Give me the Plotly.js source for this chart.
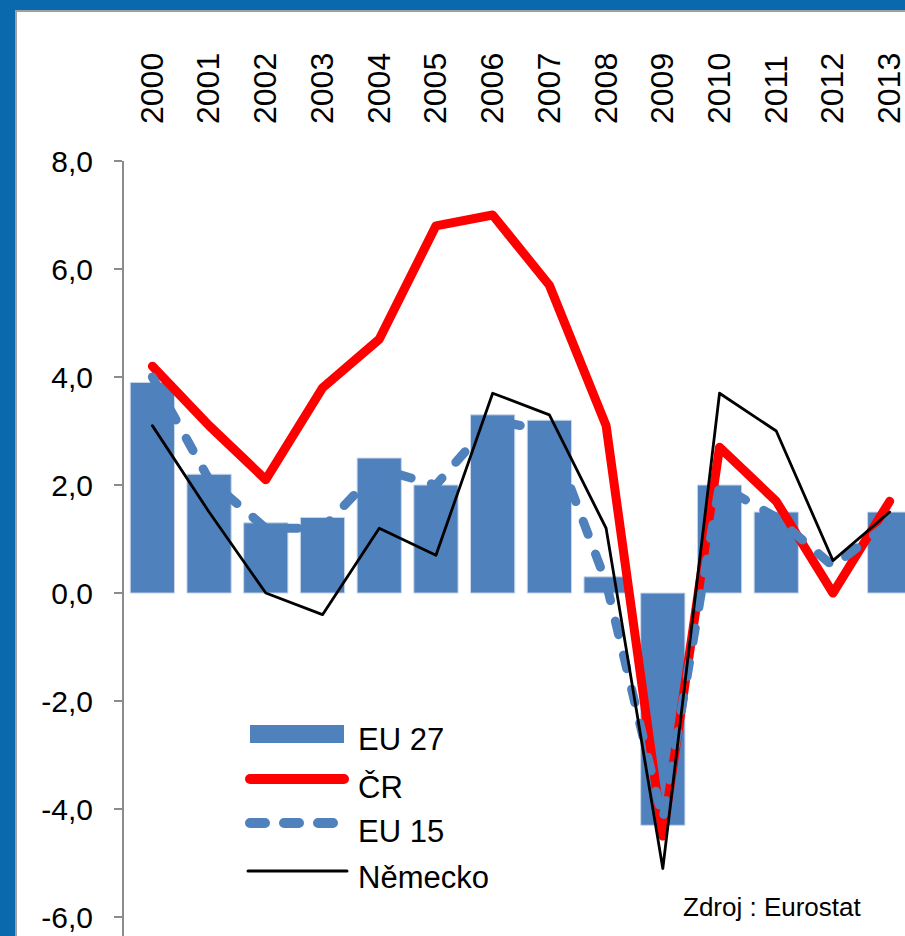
<!DOCTYPE html>
<html>
<head>
<meta charset="utf-8">
<script src="https://cdn.plot.ly/plotly-3.0.1.min.js"></script>
<style>
  html, body { margin: 0; padding: 0; overflow: hidden; background: #fff; }
  #chart { position: absolute; left: 0; top: 0; width: 905px; height: 936px; }
  .frame { position: absolute; background: #0a68ad; }
  .edge { position: absolute; background: #a0a0a0; }
  .scatterlayer .js-line { stroke-linecap: round; stroke-linejoin: round; }
  .shapelayer path { stroke-linecap: round; }
</style>
</head>
<body>
<div id="chart"></div>
<div class="frame" style="left:0;top:0;width:905px;height:10px"></div>
<div class="frame" style="left:0;top:0;width:15px;height:936px"></div>
<div class="edge" style="left:15px;top:10px;width:890px;height:2px"></div>
<div class="edge" style="left:15px;top:10px;width:2px;height:926px"></div>
<script>
var years = ['2000','2001','2002','2003','2004','2005','2006','2007','2008','2009','2010','2011','2012','2013'];
var eu27 = [3.9, 2.2, 1.3, 1.4, 2.5, 2.0, 3.3, 3.2, 0.3, -4.3, 2.0, 1.5, null, 1.5];
var cr = [4.2, 3.1, 2.1, 3.8, 4.7, 6.8, 7.0, 5.7, 3.1, -4.5, 2.7, 1.7, 0.0, 1.7];
var eu15 = [4.0, 2.1, 1.2, 1.2, 2.3, 2.0, 3.2, 3.0, 0.2, -4.2, 2.0, 1.4, 0.5, 1.3];
var nemecko = [3.1, 1.5, 0.0, -0.4, 1.2, 0.7, 3.7, 3.3, 1.2, -5.1, 3.7, 3.0, 0.6, 1.5];
var names = ['EU 27', 'ČR', 'EU 15', 'Německo'];
var yTicks = [-6, -4, -2, 0, 2, 4, 6, 8];
var yTickText = ['-6,0', '-4,0', '-2,0', '0,0', '2,0', '4,0', '6,0', '8,0'];

var idx = years.map(function (d, i) { return i; });
var bounds = idx.slice(0, -1).map(function (i) { return i + 0.5; });
var xRange = [-0.5, 13.27];
var yRange = [-6.35, 8];
var zeroPos = (0 - yRange[0]) / (yRange[1] - yRange[0]);

var W = 905, H = 936, L = 124, T = 161;
function px(x) { return (x - L) / (W - L); }
function py(y) { return (H - y) / (H - T); }

var font = 'Liberation Sans, Arial, sans-serif';
var grey = '#8c8c8c';

var data = [
  {
    type: 'bar', x: idx, y: eu27, name: names[0],
    marker: { color: '#4f81bd', line: { color: '#c9d7ea', width: 1 } },
    width: 0.78
  },
  {
    type: 'scatter', mode: 'lines', x: idx, y: cr, name: names[1],
    line: { color: '#ff0000', width: 9 }
  },
  {
    type: 'scatter', mode: 'lines', x: idx, y: eu15, name: names[2],
    line: { color: '#4f81bd', width: 9, dash: '14px,21px' }
  },
  {
    type: 'scatter', mode: 'lines', x: idx, y: nemecko, name: names[3],
    line: { color: '#000000', width: 2.8 }
  }
];

// legend drawn by hand, Excel-style long symbols
var legY = [734, 779, 823, 871];
var txtY = [739, 787, 831, 877];
var shapes = [
  { type: 'rect', xref: 'paper', yref: 'paper', x0: px(250), x1: px(344), y0: py(725), y1: py(743),
    fillcolor: '#4f81bd', line: { width: 0 } },
  { type: 'line', xref: 'paper', yref: 'paper', x0: px(250), x1: px(344), y0: py(legY[1]), y1: py(legY[1]),
    line: { color: '#ff0000', width: 10 } },
  { type: 'line', xref: 'paper', yref: 'paper', x0: px(250), x1: px(336), y0: py(legY[2]), y1: py(legY[2]),
    line: { color: '#4f81bd', width: 10, dash: '15px,19px' } },
  { type: 'line', xref: 'paper', yref: 'paper', x0: px(248), x1: px(347), y0: py(legY[3]), y1: py(legY[3]),
    line: { color: '#000000', width: 3 } }
];
var annotations = names.map(function (n, i) {
  return { text: n, xref: 'paper', yref: 'paper', x: px(356), y: py(txtY[i]),
    xanchor: 'left', yanchor: 'middle', showarrow: false,
    font: { family: font, size: 31, color: '#000' } };
});
annotations.push({ text: 'Zdroj : Eurostat', xref: 'paper', yref: 'paper', x: px(681), y: py(907),
  xanchor: 'left', yanchor: 'middle', showarrow: false,
  font: { family: font, size: 26, color: '#000' } });

var layout = {
  width: W, height: H,
  margin: { l: L, r: 0, t: T, b: 0 },
  paper_bgcolor: '#ffffff', plot_bgcolor: '#ffffff',
  showlegend: false,
  bargap: 0.22,
  xaxis: {
    range: xRange, side: 'top', tickvals: idx, ticktext: years, tickangle: -90,
    ticks: '', showline: false, showgrid: false, zeroline: false,
    ticklabelstandoff: 36, ticklabeloverflow: 'allow',
    tickfont: { family: font, size: 32, color: '#000' }
  },
  xaxis2: {
    range: xRange, overlaying: 'x', anchor: 'free', position: zeroPos, side: 'bottom',
    tickvals: bounds, showticklabels: false, ticks: 'outside', ticklen: 8, tickwidth: 2,
    tickcolor: grey, showline: true, linewidth: 3, linecolor: grey,
    showgrid: false, zeroline: false
  },
  yaxis: {
    range: yRange, tickvals: yTicks, ticktext: yTickText,
    ticks: 'outside', ticklen: 8, tickwidth: 2, tickcolor: grey,
    showline: true, linewidth: 2, linecolor: grey,
    showgrid: false, zeroline: false,
    ticklabelstandoff: 15, ticklabeloverflow: 'allow',
    tickfont: { family: font, size: 30, color: '#000' }
  },
  shapes: shapes,
  annotations: annotations
};

Plotly.newPlot('chart', data, layout, { staticPlot: true });
</script>
</body>
</html>
